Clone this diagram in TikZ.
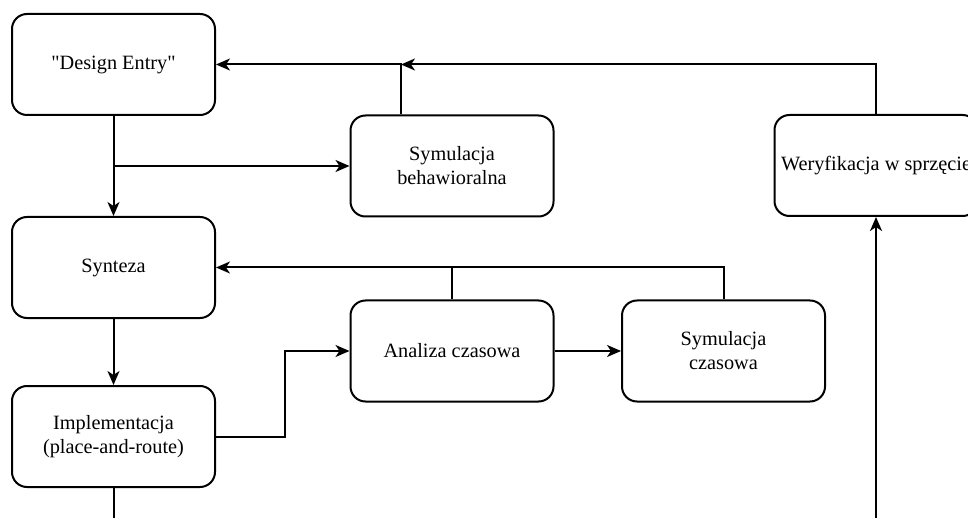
\documentclass[tikz,border=0pt]{standalone}
\usepackage{fontspec}
\setmainfont{Liberation Serif}[Ligatures=TeXOff]
\usetikzlibrary{arrows.meta}
\begin{document}
\begin{tikzpicture}[x=1pt,y=-1pt,
  stage/.style={draw, line width=2pt, rounded corners=15pt, rectangle,
    minimum width=203pt, minimum height=101pt, align=center,
    font=\fontsize{20.3}{24}\selectfont, inner sep=0pt},
  link/.style={line width=2pt},
  arr/.style={link, -{Stealth[length=14pt,width=12pt,inset=4pt]}}]
\useasboundingbox (0,0) rectangle (968,518);
\clip (0,0) rectangle (968,518);

% process stages
\node[stage] (de)  at (113.5,64.5) {"Design Entry"};
\node[stage] (sb)  at (452,166)    {Symulacja\\behawioralna};
\node[stage] (wer) at (876,165.5)  {Weryfikacja w sprzęcie};
\node[stage] (syn) at (113.5,267.5){Synteza};
\node[stage] (ac)  at (452,351)    {Analiza czasowa};
\node[stage] (sc)  at (723.5,351)  {Symulacja\\czasowa};
\node[stage] (imp) at (113.5,436.5){Implementacja\\(place-and-route)};

% junctions and free ends
\coordinate (j1) at (de.south |- sb.west);
\coordinate (sbtop) at ([xshift=-51pt]sb.north);
\coordinate (j2) at (sbtop |- de.east);
\coordinate (j3) at (ac.north |- syn.east);
\coordinate (impend) at (imp.south |- 0,530);
\coordinate (hwstart) at (wer.south |- 0,530);

% forward flow
\draw[arr] (de.south) -- (syn.north);
\draw[arr] (j1) -- (sb.west);
\draw[arr] (syn.south) -- (imp.north);
\draw[arr] (imp.east) -- ++(69,0) |- (ac.west);
\draw[arr] (ac.east) -- (sc.west);
\draw[link] (imp.south) -- (impend);
\draw[arr] (hwstart) -- (wer.south);

% feedback paths
\draw[arr] (sbtop) |- (de.east);
\draw[arr] (wer.north) |- (j2);
\draw[arr] (ac.north) |- (syn.east);
\draw[link] (sc.north) |- (j3);
\end{tikzpicture}
\end{document}
